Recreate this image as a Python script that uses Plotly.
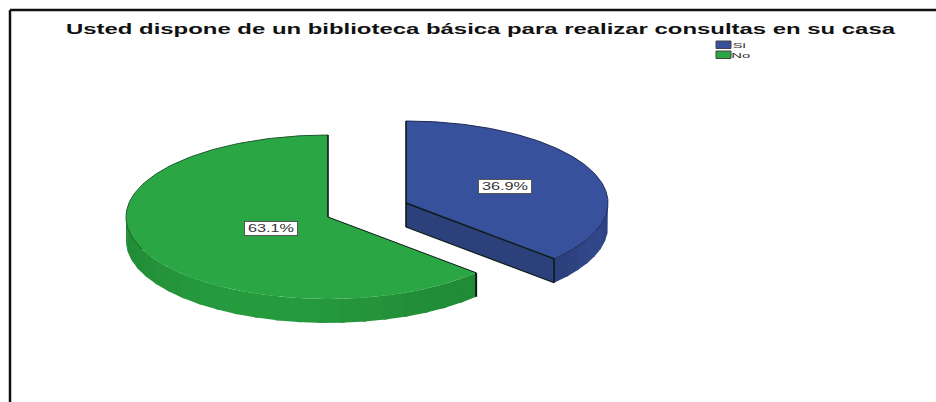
import numpy as np
import plotly.graph_objects as go

categories = ["Si", "No"]
shares = [36.9, 63.1]
labels = ["36.9%", "63.1%"]
title_text = "Usted dispone de un biblioteca básica para realizar consultas en su casa"

TOP = {"Si": "#38519c", "No": "#2aa744"}
SIDE_DARK = {"Si": (44, 64, 124), "No": (33, 139, 54)}
SIDE_LIGHT = {"Si": (49, 71, 138), "No": (38, 155, 62)}
CENTER = {"Si": (406, 203), "No": (328, 217)}
RX, RY, DEPTH = 202, 82, 24
OUTLINE = "#0d1a14"


def wedge_angles(name):
    sweep = np.deg2rad(shares[categories.index(name)] * 3.6)
    start = np.pi / 2
    if name == "Si":
        return start, start - sweep
    return start, start + sweep


def rim(cx, cy, a):
    return cx + RX * np.cos(a), cy - RY * np.sin(a)


fig = go.Figure()


def poly(xs, ys, fill=None, line=None, width=1):
    fig.add_trace(go.Scatter(
        x=list(xs), y=list(ys), mode="lines",
        fill="toself" if fill else "none", fillcolor=fill,
        line=dict(color=line or "rgba(0,0,0,0)", width=width),
        hoverinfo="skip", showlegend=False))


def side_wall(name, cx, cy, a_from, a_to, bands):
    edges = np.linspace(a_from, a_to, bands + 1)
    for i in range(bands):
        t = (i + 0.5) / bands
        mix = np.sin(np.pi * t) ** 2
        rgb = [round(d + (l - d) * mix) for d, l in zip(SIDE_DARK[name], SIDE_LIGHT[name])]
        # overlap each band slightly so no seam shows between neighbours
        stop = edges[i + 1] + (edges[i + 1] - edges[i]) * 0.2 if i < bands - 1 else edges[i + 1]
        x, y = rim(cx, cy, np.linspace(edges[i], stop, 12))
        poly(np.r_[x, x[::-1]], np.r_[y, y[::-1] + DEPTH], fill="rgb(%d,%d,%d)" % tuple(rgb))


# Green slice: curved side wall, then top face
cx, cy = CENTER["No"]
a0, a1 = wedge_angles("No")
side_wall("No", cx, cy, np.pi, a1, 22)
ex, ey = rim(cx, cy, a1)
poly([ex, ex], [ey, ey + DEPTH], line=OUTLINE, width=2)
arc = np.linspace(a0, a1, 220)
x, y = rim(cx, cy, arc)
poly(np.r_[cx, x, cx], np.r_[cy, y, cy], fill=TOP["No"])
poly(x[:110], y[:110], line="#1c5a2c", width=1)
poly([cx, cx], [y[0], cy], line=OUTLINE, width=1.6)
poly([cx, x[-1]], [cy, y[-1]], line=OUTLINE, width=1)

# Blue slice: cut face, curved side wall, then top face
cx, cy = CENTER["Si"]
a0, a1 = wedge_angles("Si")
ex, ey = rim(cx, cy, a1)
poly([cx, ex, ex, cx, cx], [cy, ey, ey + DEPTH, cy + DEPTH, cy],
     fill="rgb(%d,%d,%d)" % SIDE_DARK["Si"])
side_wall("Si", cx, cy, a1, 0, 8)
arc = np.linspace(a0, a1, 160)
x, y = rim(cx, cy, arc)
poly(np.r_[cx, x, cx], np.r_[cy, y, cy], fill=TOP["Si"])
poly(x, y, line="#1b2a55", width=1)
poly([cx, cx], [y[0], cy + DEPTH], line=OUTLINE, width=1.6)
poly([cx, ex], [cy, ey], line=OUTLINE, width=1.4)
poly([cx, ex], [cy + DEPTH, ey + DEPTH], line=OUTLINE, width=1.2)
poly([ex, ex], [ey, ey + DEPTH], line=OUTLINE, width=1.6)

annotations = [
    dict(x=505, y=186, text=labels[0]),
    dict(x=271, y=228, text=labels[1]),
]
annotations = [dict(a, xref="x", yref="y", showarrow=False, width=50, height=11,
                    bgcolor="white", bordercolor="#555555", borderwidth=1, borderpad=1,
                    font=dict(family="Liberation Sans", size=10, color="#333333"))
               for a in annotations]

# Legend
shapes = []
for i, name in enumerate(categories):
    y0 = 41 + i * 10
    shapes.append(dict(type="rect", xref="x", yref="y", x0=716, x1=731, y0=y0, y1=y0 + 7.5,
                       fillcolor=TOP[name], line=dict(color="#444444", width=1)))
    annotations.append(dict(xref="x", yref="y", x=734, y=y0 + 4, text=name, showarrow=False,
                            xanchor="left", font=dict(family="Liberation Sans", size=7.5, color="#333333")))

# Frame
shapes.append(dict(type="line", xref="x", yref="y", x0=10, x1=10, y0=402, y1=10,
                   line=dict(color="#111111", width=2.5)))
shapes.append(dict(type="line", xref="x", yref="y", x0=10, x1=936, y0=10, y1=10,
                   line=dict(color="#111111", width=2.5)))

fig.update_layout(
    width=936, height=402, margin=dict(l=0, r=0, t=0, b=0),
    paper_bgcolor="white", plot_bgcolor="white",
    xaxis=dict(range=[0, 936], visible=False, fixedrange=True),
    yaxis=dict(range=[402, 0], visible=False, fixedrange=True),
    title=dict(text=title_text, x=480.5 / 936, y=1 - 29 / 402,
               xanchor="center", yanchor="middle",
               font=dict(family="Liberation Sans", size=15, weight="bold", color="#111111")),
    shapes=shapes, annotations=annotations, showlegend=False,
)

# The reference's text is stretched horizontally: widen the real text glyphs to the same extents.
post = """
document.body.style.margin='0';
function widen(el, w){el.setAttribute('textLength', w);el.setAttribute('lengthAdjust','spacingAndGlyphs');}
var t=document.querySelector('.gtitle'); if(t){widen(t,829);}
document.querySelectorAll('.annotation-text').forEach(function(e){
  var s=e.textContent;
  if(s.indexOf('%')>=0){widen(e,46);}
  else if(s==='Si'){widen(e,13);}
  else if(s==='No'){widen(e,19);}
});
"""
fig.write_html("out.html", config={"displayModeBar": False}, post_script=post)
